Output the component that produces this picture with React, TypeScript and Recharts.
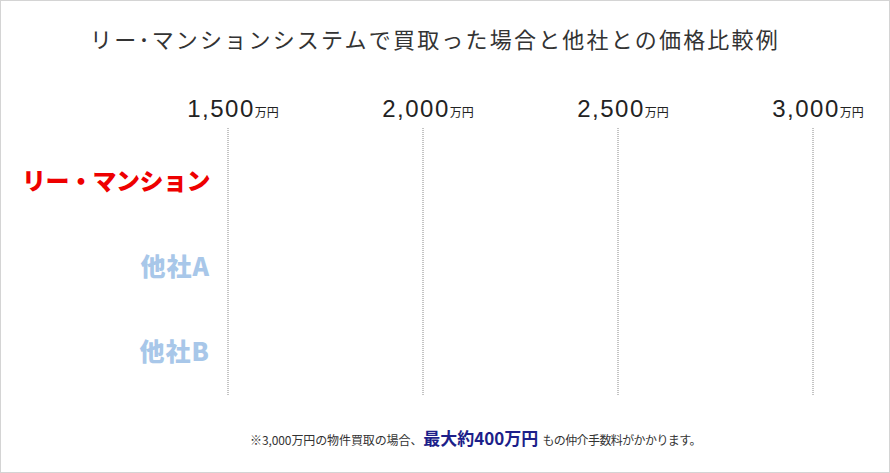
import React from 'react'
import { BarChart, Bar, XAxis, YAxis, CartesianGrid } from 'recharts'

// categories, axis ticks and label colours
const companies = ['リー・マンション', '他社A', '他社B']
const companyColors = ['#ee0000', '#a8c7e9', '#a8c7e9']
const priceTicks = [1500, 2000, 2500, 3000]

// no bars are drawn in the reference, so the price field stays empty
const data = companies.map((name) => ({ name }))

const JP = '"Noto Sans CJK JP", "Noto Sans", sans-serif'
const NUM = '"Liberation Sans", Arial, sans-serif'

const PriceTick = (props: any) => {
    const { x, y, payload } = props
    return (
        <text x={x + 5} y={y - 3} textAnchor="middle" fill="#222">
            <tspan fontFamily={NUM} fontSize={24} letterSpacing={1.5}>
                {payload.value.toLocaleString('en-US')}
            </tspan>
            <tspan fontFamily={JP} fontSize={12}>万円</tspan>
        </text>
    )
}

const CompanyTick = (props: any) => {
    const { x, y, payload } = props
    const i = companies.indexOf(payload.value)
    return (
        <text
            x={x - 10}
            y={y}
            dy={9}
            textAnchor="end"
            fontFamily={JP}
            fontWeight={900}
            fontSize={i === 0 ? 24 : 25}
            letterSpacing={i === 0 ? -0.5 : 1}
            fill={companyColors[i]}
        >
            {payload.value}
        </text>
    )
}

export default function App() {
    return (
        <div style={{ position: 'fixed', left: 0, top: 0, width: 890, height: 473, background: '#fff' }}>
            <div
                style={{
                    position: 'absolute',
                    top: 25,
                    left: -10,
                    width: 890,
                    textAlign: 'center',
                    fontFamily: JP,
                    fontSize: 22,
                    letterSpacing: 2.2,
                    color: '#333',
                    lineHeight: '26px',
                }}
            >
                リー･マンションシステムで買取った場合と他社との価格比較例
            </div>

            <div style={{ position: 'absolute', left: 0, top: 0 }}>
                <BarChart
                    width={890}
                    height={473}
                    layout="vertical"
                    data={data}
                    margin={{ top: 88, right: 77, bottom: 78, left: 0 }}
                >
                    <CartesianGrid horizontal={false} stroke="#888" strokeDasharray="1 1" />
                    <XAxis
                        type="number"
                        orientation="top"
                        domain={[1500, 3000]}
                        ticks={priceTicks}
                        height={40}
                        axisLine={false}
                        tickLine={false}
                        tick={<PriceTick />}
                        interval={0}
                        allowDataOverflow
                    />
                    <YAxis
                        type="category"
                        dataKey="name"
                        width={228}
                        axisLine={false}
                        tickLine={false}
                        tick={<CompanyTick />}
                        padding={{ top: 10, bottom: 0 }}
                        interval={0}
                    />
                    <Bar dataKey="price" fill="#ee0000" isAnimationActive={false} />
                </BarChart>
            </div>

            <div
                style={{
                    position: 'absolute',
                    left: 250,
                    top: 425,
                    fontFamily: JP,
                    fontSize: 12,
                    color: '#333',
                    whiteSpace: 'nowrap',
                    lineHeight: '26px',
                }}
            >
                <span style={{ letterSpacing: -0.1 }}>※3,000万円の物件買取の場合、</span>
                <span style={{ fontSize: 17, fontWeight: 700, color: '#1d1f8a', margin: '0 4px 0 1px' }}>
                    最大約400万円
                </span>
                <span style={{ letterSpacing: -0.6 }}>もの仲介手数料がかかります。</span>
            </div>

            <div
                style={{
                    position: 'absolute',
                    inset: 0,
                    border: '1px solid #d4d4d4',
                    boxSizing: 'border-box',
                    pointerEvents: 'none',
                }}
            />
        </div>
    )
}
